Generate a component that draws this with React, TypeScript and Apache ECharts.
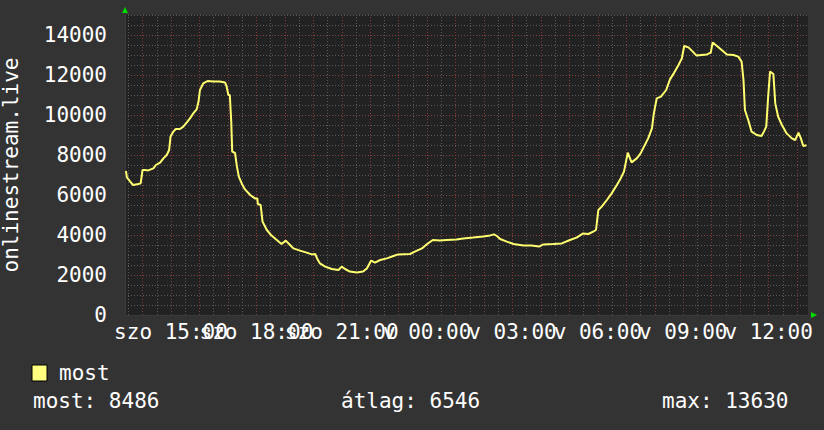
import React, { useEffect, useRef } from "react";
import * as echarts from "echarts";

// minutes since Saturday 00:00
const minutes = [
  805, 807, 814, 820, 831, 836, 840, 845, 852, 863, 868, 877, 884, 891, 896, 899, 905, 910, 919, 926,
  933, 940, 947, 954, 958, 961, 968, 977, 989, 1003, 1014, 1017, 1021, 1024, 1027, 1029, 1035, 1039, 1043, 1049,
  1056, 1067, 1077, 1082, 1083, 1089, 1093, 1102, 1112, 1123, 1133, 1142, 1151, 1158, 1172, 1186, 1197, 1204, 1208, 1214,
  1225, 1239, 1253, 1260, 1267, 1277, 1292, 1305, 1313, 1322, 1330, 1341, 1355, 1369, 1379, 1404, 1414, 1429, 1440, 1452,
  1467, 1481, 1502, 1516, 1537, 1558, 1573, 1581, 1587, 1594, 1608, 1622, 1643, 1660, 1676, 1685, 1706, 1724, 1741, 1755,
  1769, 1780, 1790, 1796, 1801, 1808, 1819, 1829, 1840, 1848, 1855, 1863, 1871, 1882, 1890, 1899, 1906, 1914, 1918, 1924,
  1933, 1944, 1952, 1961, 1970, 1977, 1982, 1991, 2000, 2008, 2019, 2030, 2038, 2042, 2051, 2061, 2072, 2086, 2096, 2103,
  2107, 2110, 2117, 2124, 2135, 2145, 2150, 2155, 2159, 2163, 2170, 2174, 2180, 2188, 2198, 2209, 2216, 2223, 2228, 2233,
  2240,
];
const viewers = [
  7200, 6880, 6670, 6500, 6550, 6580, 7250, 7250, 7230, 7330, 7500, 7620, 7830, 8000, 8250, 8920, 9170, 9300, 9300, 9420,
  9620, 9830, 10080, 10280, 10670, 11250, 11580, 11700, 11670, 11670, 11620, 11450, 11000, 11000, 9670, 8170, 8100, 7420, 6920, 6580,
  6280, 6000, 5830, 5830, 5550, 5500, 4670, 4250, 3970, 3750, 3550, 3720, 3500, 3330, 3220, 3120, 3030, 3050, 2830, 2580,
  2420, 2300, 2250, 2420, 2300, 2170, 2120, 2170, 2330, 2720, 2620, 2750, 2830, 2950, 3030, 3050, 3170, 3330, 3550, 3750,
  3720, 3750, 3780, 3830, 3870, 3920, 3980, 4030, 3950, 3800, 3670, 3550, 3480, 3470, 3420, 3530, 3550, 3580, 3750, 3870,
  4080, 4050, 4170, 4250, 5250, 5420, 5750, 6080, 6500, 6830, 7170, 8120, 7630, 7830, 8080, 8500, 8830, 9330, 10080, 10830,
  10920, 11250, 11780, 12120, 12500, 12830, 13450, 13380, 13170, 12970, 13000, 13030, 13120, 13630, 13450, 13250, 13030, 13000, 12920, 12670,
  11750, 10250, 9750, 9170, 9000, 8950, 9170, 9420, 10920, 12170, 12050, 10580, 9920, 9500, 9080, 8830, 8750, 9120, 8830, 8450,
  8486,
];

const startMinute = 803;
const endMinute = 2243;
const labelMinutes = [900, 1080, 1260, 1440, 1620, 1800, 1980, 2160];
const yLabelValues = [0, 2000, 4000, 6000, 8000, 10000, 12000, 14000];
const yMax = 15000;
const axisTitle = "onlinestream.live";
const legendName = "most";
const statLabels = ["most: 8486", "átlag: 6546", "max: 13630"];

const FONT = '"DejaVu Sans Mono", monospace';
const FS = 21;
const MAJOR = "#8a3c3c";
const MINOR = "#5a5a5a";

function pad(n: number) {
  return n < 10 ? "0" + n : String(n);
}
function fmtTime(m: number) {
  const day = m < 1440 ? "szo" : "v";
  const mm = m % 1440;
  return `${day} ${pad(Math.floor(mm / 60))}:${pad(mm % 60)}`;
}

export default function App() {
  const ref = useRef<HTMLDivElement>(null);
  useEffect(() => {
    if (!ref.current) return;
    const chart = echarts.init(ref.current, undefined, { renderer: "svg" });

    const vLines: any[] = [];
    for (let m = Math.ceil(startMinute / 30) * 30; m < endMinute; m += 30) {
      const major = m % 60 === 0;
      vLines.push({
        xAxis: m,
        lineStyle: { color: major ? MAJOR : MINOR, width: 1, type: [1, 2] },
      });
    }
    const hLines: any[] = yLabelValues
      .filter((v) => v > 0)
      .map((v) => ({
        yAxis: v,
        lineStyle: { color: MAJOR, width: 1, type: [1, 2] },
      }));

    const labelLines: any[] = labelMinutes.map((m) => ({
      xAxis: m,
      lineStyle: { color: "rgba(0,0,0,0)", width: 1 },
      label: {
        show: true,
        position: "start",
        formatter: fmtTime(m),
        color: "#ffffff",
        fontFamily: FONT,
        fontSize: FS,
        distance: 6,
      },
    }));

    const data = minutes.map((m, i) => [m, viewers[i]]);

    chart.setOption({
      animation: false,
      backgroundColor: "#333333",
      grid: {
        left: 125,
        right: 16,
        top: 15,
        bottom: 115,
        show: true,
        backgroundColor: "#222222",
        borderWidth: 0,
        containLabel: false,
        outerBoundsMode: "none",
      },
      xAxis: {
        type: "value",
        min: startMinute,
        max: endMinute,
        splitLine: { show: false },
        axisTick: { show: false },
        axisLine: { show: true, lineStyle: { color: "#3a3a3a", width: 1 } },
        axisLabel: { show: false },
      },
      yAxis: {
        type: "value",
        min: 0,
        max: yMax,
        interval: 500,
        name: axisTitle,
        nameLocation: "middle",
        nameGap: 104,
        nameRotate: 90,
        nameTextStyle: { color: "#ffffff", fontFamily: FONT, fontSize: FS },
        axisTick: { show: false },
        axisLine: { show: true, lineStyle: { color: "#3a3a3a", width: 1 } },
        axisLabel: {
          formatter: (v: number) => (yLabelValues.indexOf(v) >= 0 ? String(v) : ""),
          color: "#ffffff",
          fontFamily: FONT,
          fontSize: FS,
          margin: 18,
        },
        splitLine: { show: true, lineStyle: { color: MINOR, width: 1, type: [1, 2] } },
      },
      series: [
        {
          type: "line",
          name: "grid",
          data,
          z: 1,
          symbol: "none",
          lineStyle: { opacity: 0, width: 0 },
          silent: true,
          markLine: {
            silent: true,
            symbol: ["none", "none"],
            label: { show: false },
            animation: false,
            data: [...vLines, ...hLines, ...labelLines],
          },
        },
        {
          type: "line",
          name: legendName,
          data,
          z: 5,
          symbol: "none",
          showSymbol: false,
          lineStyle: { color: "#ffff70", width: 2 },
          silent: true,
        },
      ],
      graphic: [
        {
          type: "polygon",
          shape: { points: [[122, 13], [128, 13], [125, 7]] },
          style: { fill: "#00dd00" },
        },
        {
          type: "polygon",
          shape: { points: [[811, 312], [811, 318], [817, 315]] },
          style: { fill: "#00dd00" },
        },
        {
          type: "rect",
          shape: { x: 32, y: 365, width: 15, height: 16 },
          style: { fill: "#ffff80", stroke: "#000000", lineWidth: 1 },
        },
        {
          type: "text",
          x: 59,
          y: 373,
          style: { text: legendName, fill: "#ffffff", font: `${FS}px ${FONT}`, verticalAlign: "middle" },
        },
        {
          type: "text",
          x: 33,
          y: 401,
          style: { text: statLabels[0], fill: "#ffffff", font: `${FS}px ${FONT}`, verticalAlign: "middle" },
        },
        {
          type: "text",
          x: 341,
          y: 401,
          style: { text: statLabels[1], fill: "#ffffff", font: `${FS}px ${FONT}`, verticalAlign: "middle" },
        },
        {
          type: "text",
          x: 662,
          y: 401,
          style: { text: statLabels[2], fill: "#ffffff", font: `${FS}px ${FONT}`, verticalAlign: "middle" },
        },
      ],
    });
    return () => chart.dispose();
  }, []);
  return (
    <div
      ref={ref}
      style={{ position: "fixed", left: 0, top: 0, width: 824, height: 430 }}
    />
  );
}
